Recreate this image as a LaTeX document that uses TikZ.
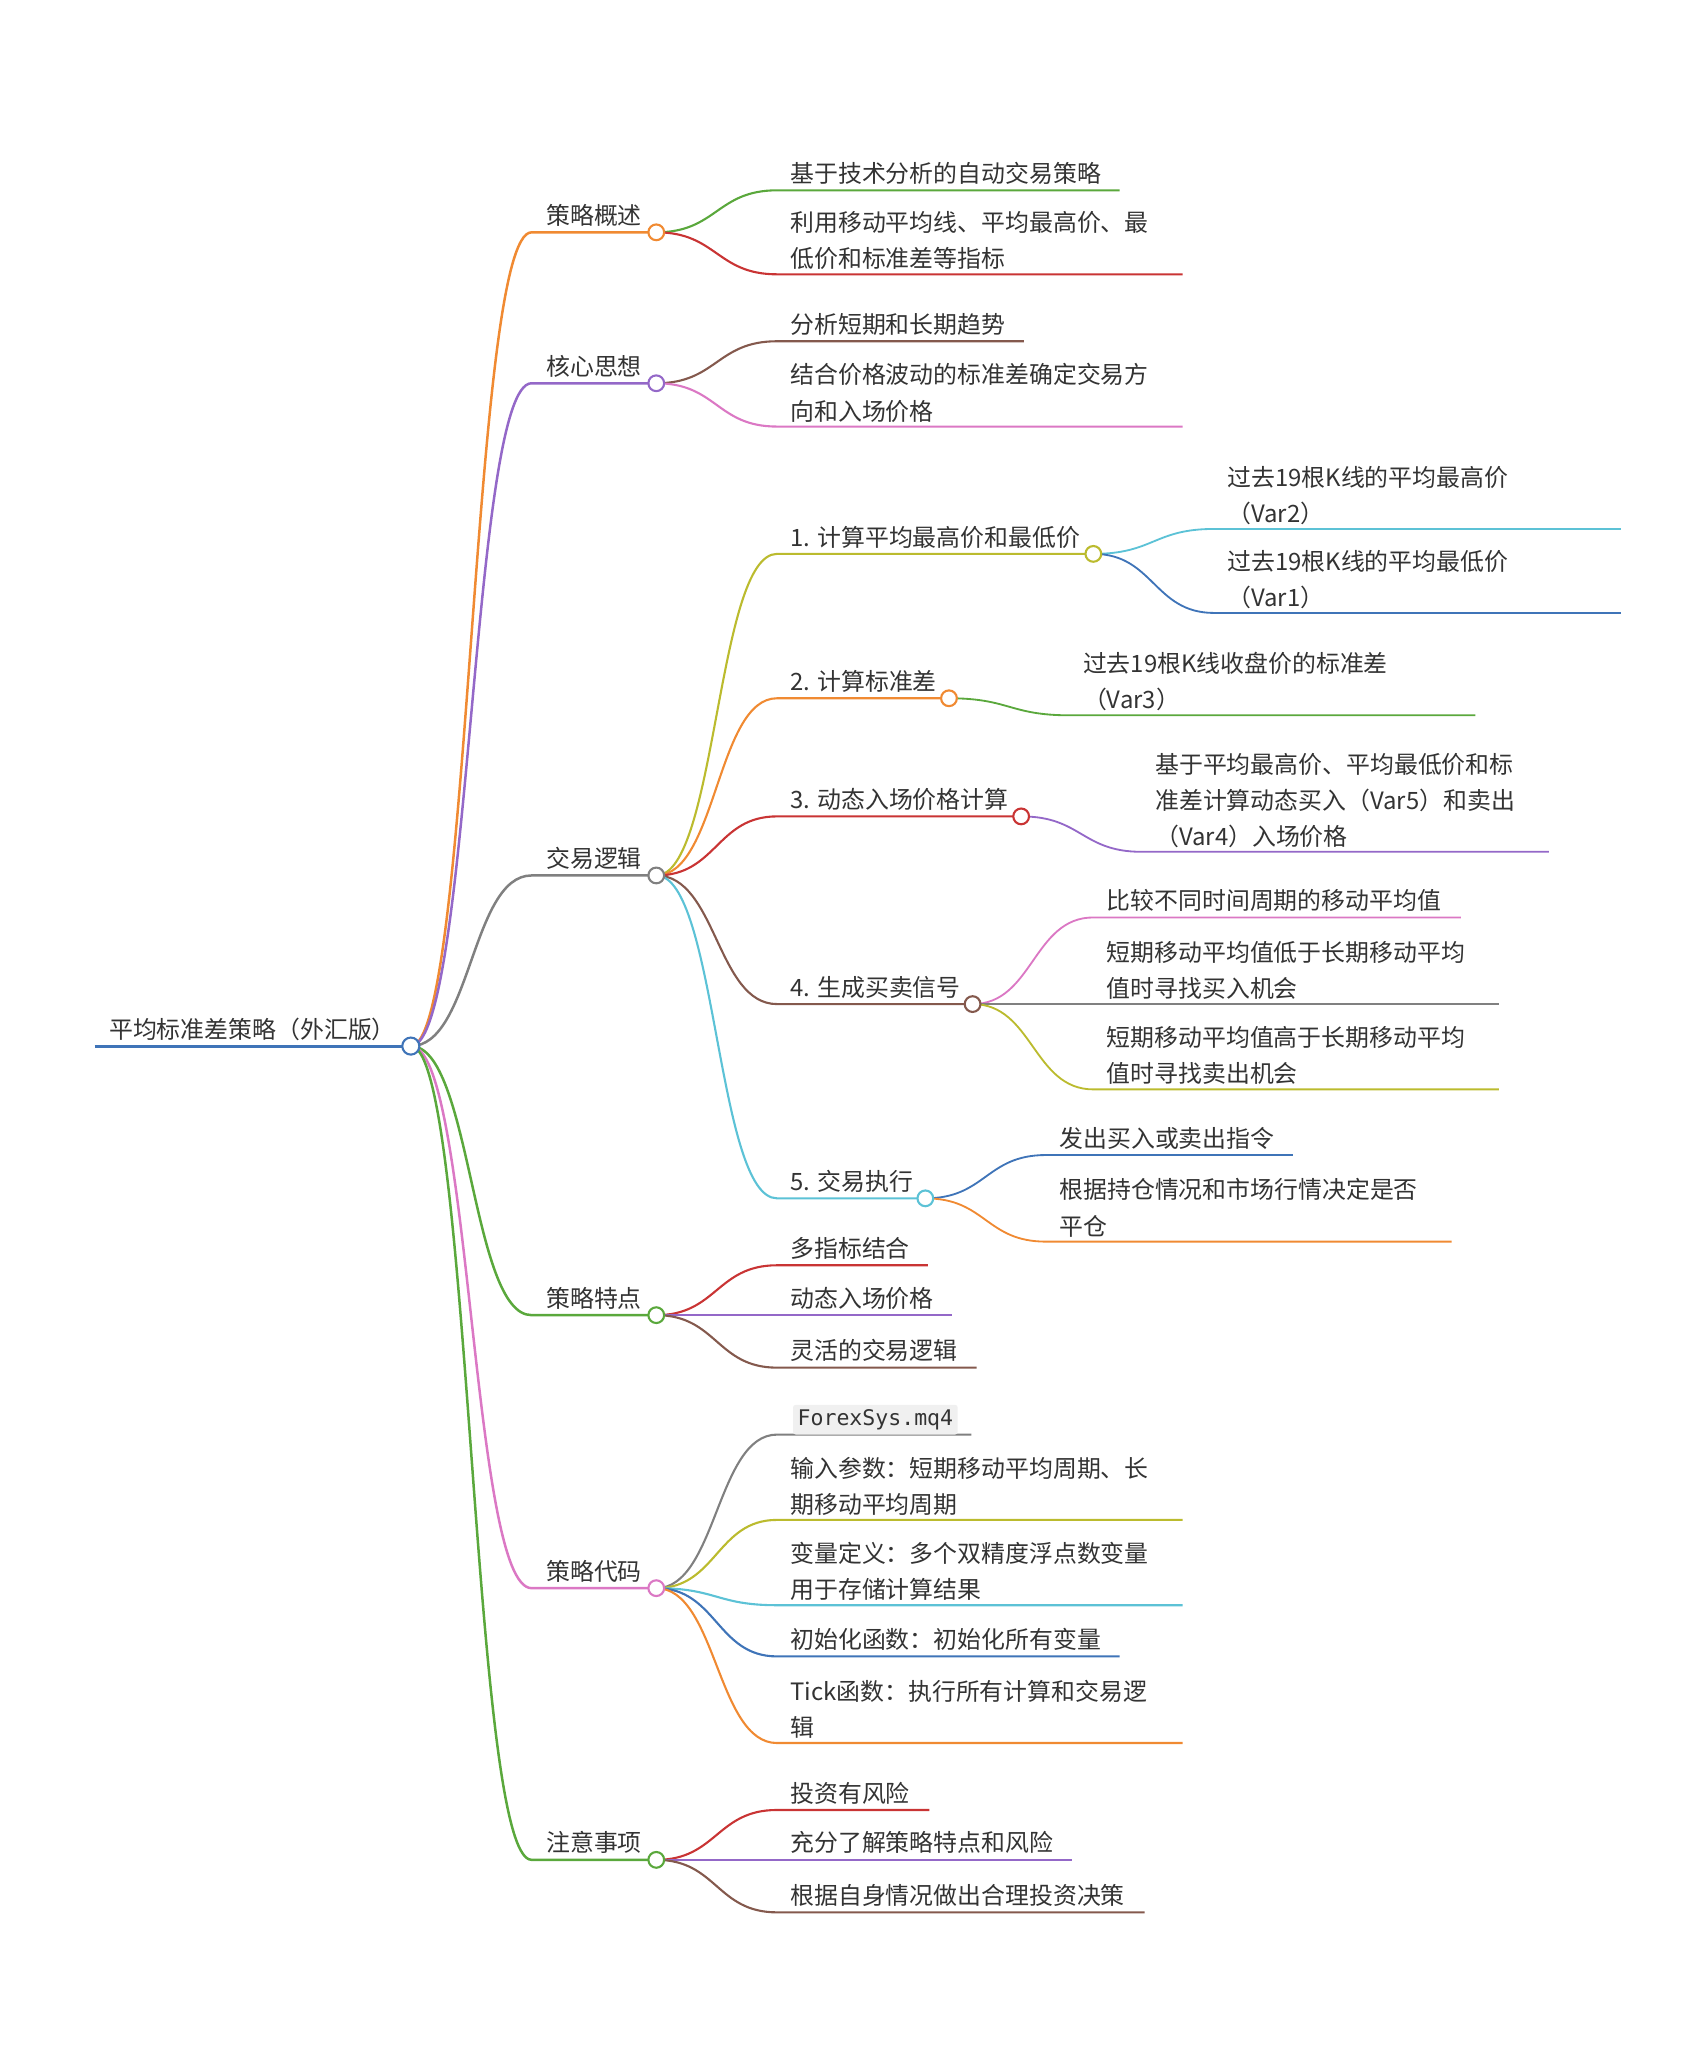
\documentclass[tikz,border=0pt]{standalone}
\usepackage{fontspec}
\setmainfont{Noto Sans CJK SC}
\newfontfamily\codefont{DejaVu Sans Mono}
\usepackage{xcolor}

\definecolor{mblue}{HTML}{3F74B8}
\definecolor{morange}{HTML}{F08A32}
\definecolor{mgreen}{HTML}{5AA83C}
\definecolor{mred}{HTML}{C93434}
\definecolor{mpurple}{HTML}{9468C8}
\definecolor{mbrown}{HTML}{84594D}
\definecolor{mpink}{HTML}{DB78C4}
\definecolor{mgray}{HTML}{808080}
\definecolor{molive}{HTML}{BBBB2E}
\definecolor{mcyan}{HTML}{5CC2D6}
\definecolor{txtc}{HTML}{333333}
\definecolor{codebg}{HTML}{F0F0F0}

\tikzset{
	lbl/.style={anchor=base west, inner sep=0pt, text=txtc, align=left,
		font=\fontsize{18.2}{27.5}\selectfont},
	codelbl/.style={anchor=base west, inner sep=3.5pt, fill=codebg, rounded corners=2pt,
		text=txtc, font=\codefont\fontsize{16.4}{20}\selectfont},
	knob/.style={circle, draw=#1, fill=white, line width=1.6pt, minimum size=12pt, inner sep=0pt},
	lv0/.style={line width=2.4pt},
	lv1/.style={line width=1.9pt},
	lv2/.style={line width=1.6pt},
	lv3/.style={line width=1.4pt},
	mmcurve/.style={to path={.. controls +(46,0) and +(-46,0) .. (\tikztotarget)}}
}

\begin{document}
\begin{tikzpicture}[x=1pt, y=-1pt]
	\useasboundingbox (0,0) rectangle (1280,1575.6);

	% root
	\coordinate (root-s) at (72,797);
	\coordinate (root) at (313,797);
	\node[lbl] (root-t) at (83,791) {平均标准差策略（外汇版）};
	\draw[mblue, lv0] (root-s) -- (root);

	% first level
	\coordinate (gaishu-s) at (405,177);  \coordinate (gaishu) at (500,177);
	\coordinate (hexin-s) at (405,292);   \coordinate (hexin) at (500,292);
	\coordinate (luoji-s) at (405,667);   \coordinate (luoji) at (500,667);
	\coordinate (tedian-s) at (405,1002); \coordinate (tedian) at (500,1002);
	\coordinate (daima-s) at (405,1210);  \coordinate (daima) at (500,1210);
	\coordinate (zhuyi-s) at (405,1417);  \coordinate (zhuyi) at (500,1417);

	\node[lbl] (gaishu-t) at (416,171) {策略概述};
	\node[lbl] (hexin-t) at (416,286) {核心思想};
	\node[lbl] (luoji-t) at (416,661) {交易逻辑};
	\node[lbl] (tedian-t) at (416,996) {策略特点};
	\node[lbl] (daima-t) at (416,1204) {策略代码};
	\node[lbl] (zhuyi-t) at (416,1411) {注意事项};

	\draw[morange, lv1] (root) to[mmcurve] (gaishu-s) -- (gaishu);
	\draw[mpurple, lv1] (root) to[mmcurve] (hexin-s) -- (hexin);
	\draw[mgray, lv1] (root) to[mmcurve] (luoji-s) -- (luoji);
	\draw[mgreen, lv1] (root) to[mmcurve] (tedian-s) -- (tedian);
	\draw[mpink, lv1] (root) to[mmcurve] (daima-s) -- (daima);
	\draw[mgreen, lv1] (root) to[mmcurve] (zhuyi-s) -- (zhuyi);

	% 策略概述
	\coordinate (g1-s) at (592,145); \coordinate (g1-e) at (853,145);
	\coordinate (g2-s) at (592,209); \coordinate (g2-e) at (901,209);
	\node[lbl] (g1-t) at (602,139) {基于技术分析的自动交易策略};
	\node[lbl] (g2-t) at (602,204) {利用移动平均线、平均最高价、最\\低价和标准差等指标};
	\draw[mgreen, lv2] (gaishu) to[mmcurve] (g1-s) -- (g1-e);
	\draw[mred, lv2] (gaishu) to[mmcurve] (g2-s) -- (g2-e);

	% 核心思想
	\coordinate (h1-s) at (592,260); \coordinate (h1-e) at (780,260);
	\coordinate (h2-s) at (592,325); \coordinate (h2-e) at (901,325);
	\node[lbl] (h1-t) at (602,254) {分析短期和长期趋势};
	\node[lbl] (h2-t) at (602,320) {结合价格波动的标准差确定交易方\\向和入场价格};
	\draw[mbrown, lv2] (hexin) to[mmcurve] (h1-s) -- (h1-e);
	\draw[mpink, lv2] (hexin) to[mmcurve] (h2-s) -- (h2-e);

	% 交易逻辑
	\coordinate (l1-s) at (592,422); \coordinate (l1) at (833,422);
	\coordinate (l2-s) at (592,532); \coordinate (l2) at (723,532);
	\coordinate (l3-s) at (592,622); \coordinate (l3) at (778,622);
	\coordinate (l4-s) at (592,765); \coordinate (l4) at (741,765);
	\coordinate (l5-s) at (592,913); \coordinate (l5) at (705,913);
	\node[lbl] (l1-t) at (602,416) {1. 计算平均最高价和最低价};
	\node[lbl] (l2-t) at (602,526) {2. 计算标准差};
	\node[lbl] (l3-t) at (602,616) {3. 动态入场价格计算};
	\node[lbl] (l4-t) at (602,759) {4. 生成买卖信号};
	\node[lbl] (l5-t) at (602,907) {5. 交易执行};
	\draw[molive, lv2] (luoji) to[mmcurve] (l1-s) -- (l1);
	\draw[morange, lv2] (luoji) to[mmcurve] (l2-s) -- (l2);
	\draw[mred, lv2] (luoji) to[mmcurve] (l3-s) -- (l3);
	\draw[mbrown, lv2] (luoji) to[mmcurve] (l4-s) -- (l4);
	\draw[mcyan, lv2] (luoji) to[mmcurve] (l5-s) -- (l5);

	% 1. 计算平均最高价和最低价
	\coordinate (l1a-s) at (925,403); \coordinate (l1a-e) at (1235,403);
	\coordinate (l1b-s) at (925,467); \coordinate (l1b-e) at (1235,467);
	\node[lbl] (l1a-t) at (935,398) {过去19根K线的平均最高价\\（Var2）};
	\node[lbl] (l1b-t) at (935,462) {过去19根K线的平均最低价\\（Var1）};
	\draw[mcyan, lv3] (l1) to[mmcurve] (l1a-s) -- (l1a-e);
	\draw[mblue, lv3] (l1) to[mmcurve] (l1b-s) -- (l1b-e);

	% 2. 计算标准差
	\coordinate (l2a-s) at (815,545); \coordinate (l2a-e) at (1124,545);
	\node[lbl] (l2a-t) at (825,540) {过去19根K线收盘价的标准差\\（Var3）};
	\draw[mgreen, lv3] (l2) to[mmcurve] (l2a-s) -- (l2a-e);

	% 3. 动态入场价格计算
	\coordinate (l3a-s) at (870,649); \coordinate (l3a-e) at (1180,649);
	\node[lbl] (l3a-t) at (880,644) {基于平均最高价、平均最低价和标\\准差计算动态买入（Var5）和卖出\\（Var4）入场价格};
	\draw[mpurple, lv3] (l3) to[mmcurve] (l3a-s) -- (l3a-e);

	% 4. 生成买卖信号
	\coordinate (l4a-s) at (833,699); \coordinate (l4a-e) at (1113,699);
	\coordinate (l4b-s) at (833,765); \coordinate (l4b-e) at (1142,765);
	\coordinate (l4c-s) at (833,830); \coordinate (l4c-e) at (1142,830);
	\node[lbl] (l4a-t) at (843,693) {比较不同时间周期的移动平均值};
	\node[lbl] (l4b-t) at (843,760) {短期移动平均值低于长期移动平均\\值时寻找买入机会};
	\node[lbl] (l4c-t) at (843,825) {短期移动平均值高于长期移动平均\\值时寻找卖出机会};
	\draw[mpink, lv3] (l4) to[mmcurve] (l4a-s) -- (l4a-e);
	\draw[mgray, lv3] (l4) to[mmcurve] (l4b-s) -- (l4b-e);
	\draw[molive, lv3] (l4) to[mmcurve] (l4c-s) -- (l4c-e);

	% 5. 交易执行
	\coordinate (l5a-s) at (797,880); \coordinate (l5a-e) at (985,880);
	\coordinate (l5b-s) at (797,946); \coordinate (l5b-e) at (1106,946);
	\node[lbl] (l5a-t) at (807,874) {发出买入或卖出指令};
	\node[lbl] (l5b-t) at (807,941) {根据持仓情况和市场行情决定是否\\平仓};
	\draw[mblue, lv3] (l5) to[mmcurve] (l5a-s) -- (l5a-e);
	\draw[morange, lv3] (l5) to[mmcurve] (l5b-s) -- (l5b-e);

	% 策略特点
	\coordinate (t1-s) at (592,964);  \coordinate (t1-e) at (707,964);
	\coordinate (t2-s) at (592,1002); \coordinate (t2-e) at (725,1002);
	\coordinate (t3-s) at (592,1042); \coordinate (t3-e) at (744,1042);
	\node[lbl] (t1-t) at (602,958) {多指标结合};
	\node[lbl] (t2-t) at (602,996) {动态入场价格};
	\node[lbl] (t3-t) at (602,1036) {灵活的交易逻辑};
	\draw[mred, lv2] (tedian) to[mmcurve] (t1-s) -- (t1-e);
	\draw[mpurple, lv2] (tedian) to[mmcurve] (t2-s) -- (t2-e);
	\draw[mbrown, lv2] (tedian) to[mmcurve] (t3-s) -- (t3-e);

	% 策略代码
	\coordinate (d1-s) at (592,1093); \coordinate (d1-e) at (740,1093);
	\coordinate (d2-s) at (592,1158); \coordinate (d2-e) at (901,1158);
	\coordinate (d3-s) at (592,1223); \coordinate (d3-e) at (901,1223);
	\coordinate (d4-s) at (592,1262); \coordinate (d4-e) at (853,1262);
	\coordinate (d5-s) at (592,1328); \coordinate (d5-e) at (901,1328);
	\draw[mgray, lv2] (daima) to[mmcurve] (d1-s) -- (d1-e);
	\node[codelbl] (d1-t) at (604,1086) {ForexSys.mq4};
	\node[lbl] (d2-t) at (602,1153) {输入参数：短期移动平均周期、长\\期移动平均周期};
	\node[lbl] (d3-t) at (602,1218) {变量定义：多个双精度浮点数变量\\用于存储计算结果};
	\node[lbl] (d4-t) at (602,1256) {初始化函数：初始化所有变量};
	\node[lbl] (d5-t) at (602,1323) {Tick函数：执行所有计算和交易逻\\辑};
	\draw[molive, lv2] (daima) to[mmcurve] (d2-s) -- (d2-e);
	\draw[mcyan, lv2] (daima) to[mmcurve] (d3-s) -- (d3-e);
	\draw[mblue, lv2] (daima) to[mmcurve] (d4-s) -- (d4-e);
	\draw[morange, lv2] (daima) to[mmcurve] (d5-s) -- (d5-e);

	% 注意事项
	\coordinate (z1-s) at (592,1379); \coordinate (z1-e) at (708,1379);
	\coordinate (z2-s) at (592,1417); \coordinate (z2-e) at (817,1417);
	\coordinate (z3-s) at (592,1457); \coordinate (z3-e) at (872,1457);
	\node[lbl] (z1-t) at (602,1373) {投资有风险};
	\node[lbl] (z2-t) at (602,1411) {充分了解策略特点和风险};
	\node[lbl] (z3-t) at (602,1451) {根据自身情况做出合理投资决策};
	\draw[mred, lv2] (zhuyi) to[mmcurve] (z1-s) -- (z1-e);
	\draw[mpurple, lv2] (zhuyi) to[mmcurve] (z2-s) -- (z2-e);
	\draw[mbrown, lv2] (zhuyi) to[mmcurve] (z3-s) -- (z3-e);

	% knobs on top
	\node[knob=mblue, minimum size=13pt] (root-k) at (root) {};
	\node[knob=morange] (gaishu-k) at (gaishu) {};
	\node[knob=mpurple] (hexin-k) at (hexin) {};
	\node[knob=mgray] (luoji-k) at (luoji) {};
	\node[knob=mgreen] (tedian-k) at (tedian) {};
	\node[knob=mpink] (daima-k) at (daima) {};
	\node[knob=mgreen] (zhuyi-k) at (zhuyi) {};
	\node[knob=molive] (l1-k) at (l1) {};
	\node[knob=morange] (l2-k) at (l2) {};
	\node[knob=mred] (l3-k) at (l3) {};
	\node[knob=mbrown] (l4-k) at (l4) {};
	\node[knob=mcyan] (l5-k) at (l5) {};
\end{tikzpicture}
\end{document}
